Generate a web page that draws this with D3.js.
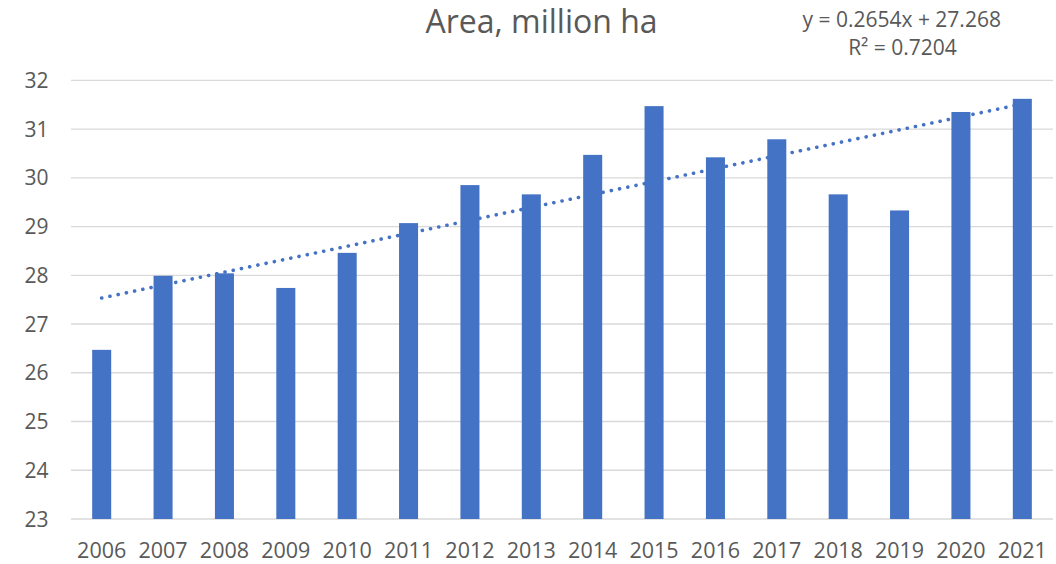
<!DOCTYPE html>
<html>
<head>
<meta charset="utf-8">
<script src="https://cdn.jsdelivr.net/npm/d3@7"></script>
<style>
  html, body { margin: 0; padding: 0; background: #fff; }
  svg { display: block; font-family: "Open Sans", sans-serif; }
</style>
</head>
<body>
<svg id="chart" width="1056" height="564"></svg>
<script>
const years = ["2006","2007","2008","2009","2010","2011","2012","2013","2014","2015","2016","2017","2018","2019","2020","2021"];
const area = [26.47, 27.99, 28.04, 27.74, 28.46, 29.07, 29.85, 29.66, 30.47, 31.47, 30.42, 30.79, 29.66, 29.33, 31.35, 31.62];
const yTicks = [23, 24, 25, 26, 27, 28, 29, 30, 31, 32];
const trendSlope = 0.2654;
const trendIntercept = 27.268;
const titleText = "Area, million ha";
const equationText = "y = 0.2654x + 27.268";
const r2Text = "R² = 0.7204";

const svg = d3.select("#chart");
const plotLeft = 71, plotRight = 1053, plotTop = 80.3, plotBottom = 519;
const textColor = "#595959";
const barColor = "#4472C4";

const x = d3.scaleBand().domain(years).range([plotLeft, plotRight]).paddingInner(0.69).paddingOuter(0.345);
const y = d3.scaleLinear().domain([23, 32]).range([plotBottom, plotTop]);

// gridlines
svg.append("g").selectAll("line").data(yTicks).join("line")
  .attr("x1", plotLeft).attr("x2", plotRight)
  .attr("y1", d => y(d)).attr("y2", d => y(d))
  .attr("stroke", "#d9d9d9").attr("stroke-width", 1.3);

// y axis labels
const yAxis = d3.axisLeft(y).tickValues(yTicks).tickSize(0).tickPadding(0).tickFormat(d3.format("d"));
const gy = svg.append("g").attr("transform", `translate(48.5,0)`).call(yAxis);
gy.select(".domain").remove();
gy.selectAll("text").attr("fill", textColor).attr("font-size", 21).attr("font-family", "Open Sans").attr("dy", "0.34em");

// bars
svg.append("g").selectAll("rect").data(area).join("rect")
  .attr("x", (d, i) => x(years[i]))
  .attr("width", x.bandwidth())
  .attr("y", d => y(d))
  .attr("height", d => y(23) - y(d))
  .attr("fill", barColor);

// x axis labels
const xAxis = d3.axisBottom(x).tickSize(0).tickPadding(0);
const gx = svg.append("g").attr("transform", `translate(0,${plotBottom})`).call(xAxis);
gx.select(".domain").remove();
gx.selectAll("text").attr("fill", textColor).attr("font-size", 21.5).attr("font-family", "Open Sans").attr("dy", null).attr("y", 38.5);

// trendline
const trend = years.map((yr, i) => ({ yr, v: trendIntercept + trendSlope * (i + 1) }));
svg.append("path").datum(trend)
  .attr("d", d3.line().x(d => x(d.yr) + x.bandwidth() / 2).y(d => y(d.v)))
  .attr("fill", "none").attr("stroke", barColor).attr("stroke-width", 3.6)
  .attr("stroke-linecap", "round").attr("stroke-dasharray", "0.1 8.3");

// title
svg.append("text").attr("x", 541.5).attr("y", 33.3).attr("text-anchor", "middle")
  .attr("font-size", 32).attr("fill", textColor).text(titleText);

// equation
svg.append("text").attr("x", 901.7).attr("y", 26.7).attr("text-anchor", "middle")
  .attr("font-size", 21).attr("fill", textColor).text(equationText);
svg.append("text").attr("x", 902.5).attr("y", 55).attr("text-anchor", "middle")
  .attr("font-size", 21).attr("fill", textColor).text(r2Text);
</script>
</body>
</html>
